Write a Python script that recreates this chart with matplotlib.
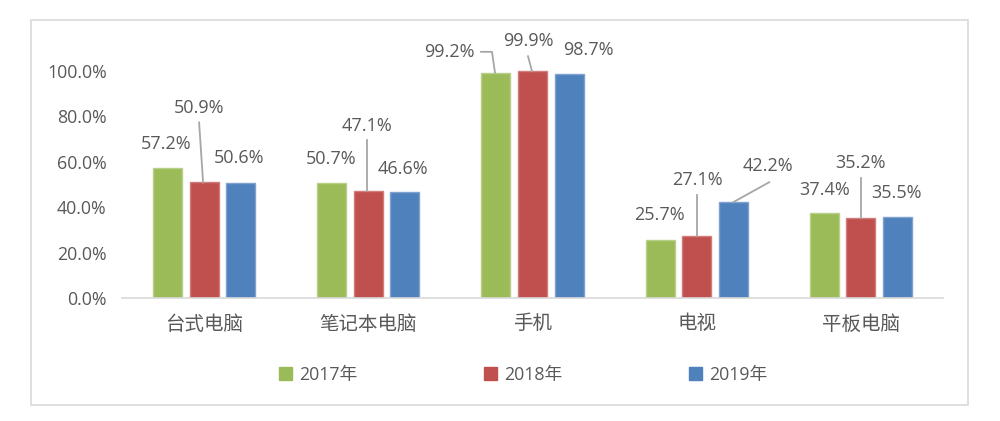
import matplotlib
matplotlib.use("Agg")
import matplotlib.pyplot as plt
from matplotlib.patches import Patch, Rectangle
import numpy as np

plt.rcParams['font.family'] = ['Open Sans', 'Noto Sans CJK SC', 'DejaVu Sans']

categories = ['台式电脑', '笔记本电脑', '手机', '电视', '平板电脑']
series_names = ['2017年', '2018年', '2019年']
values_2017 = [57.2, 50.7, 99.2, 25.7, 37.4]
values_2018 = [50.9, 47.1, 99.9, 27.1, 35.2]
values_2019 = [50.6, 46.6, 98.7, 42.2, 35.5]
yticks = [0, 20, 40, 60, 80, 100]

colors = ['#9BBB59', '#C0504D', '#4F81BD']
edges = ['#B9CF8A', '#D07E7B', '#7FA2CE']
text_color = '#595959'
leader_color = '#A6A6A6'

# label offsets from bar top (pixels: dx, dy up), per series x category
label_offsets = [
    [(-1, 24), (-1, 24), (-47, 21), (-1, 25), (0, 23)],
    [(-5, 74), (-1, 65), (-4.5, 30), (1, 56), (0, 55)],
    [(-2, 25), (-2, 23), (19, 24), (35, 36), (-1, 24)],
]
# leader lines: (series, category, list of pixel offsets from bar top)
leaders = [
    (1, 0, [(-5, 60), (-1, 0)]),
    (1, 1, [(-1.3, 51), (-1.3, 0)]),
    (0, 2, [(-15, 21), (-4, 21), (-1, 0)]),
    (1, 2, [(-4.5, 15), (-0.5, 0)]),
    (1, 3, [(0.3, 41.5), (0.3, 0)]),
    (2, 3, [(36, 20), (0, 0)]),
    (1, 4, [(0, 40), (0, 0)]),
]

fig = plt.figure(figsize=(10, 4.21), dpi=100)
fig.patches.append(Rectangle((31 / 1000, 16 / 421), 937 / 1000, 385 / 421,
                             transform=fig.transFigure, fill=False,
                             edgecolor='#D9D9D9', lw=1.2))

ax = fig.add_axes([0.122, 123 / 421, 0.821, (395.4 - 123) / 421])
ax.set_xlim(-0.5, len(categories) - 0.5)
ax.set_ylim(0, 120)

x = np.arange(len(categories))
width = 0.1766
step = 0.2223
all_vals = [values_2017, values_2018, values_2019]
for s, vals in enumerate(all_vals):
    ax.bar(x + (s - 1) * step, vals, width, color=colors[s], edgecolor=edges[s],
           linewidth=1, label=series_names[s], zorder=2)

for s, vals in enumerate(all_vals):
    for i, v in enumerate(vals):
        dx, dy = label_offsets[s][i]
        ax.annotate(f'{v:.1f}%', (x[i] + (s - 1) * step, v),
                    xytext=(dx * 0.72, dy * 0.72), textcoords='offset points',
                    ha='center', va='center', fontsize=13, color=text_color,
                    annotation_clip=False)

for s, i, pts in leaders:
    bx = x[i] + (s - 1) * step
    by = all_vals[s][i]
    base = ax.transData.transform((bx, by))
    disp = np.array([[base[0] + px, base[1] + py] for px, py in pts])
    data = ax.transData.inverted().transform(disp)
    ax.plot(data[:, 0], data[:, 1], color=leader_color, lw=1.3, zorder=3,
            clip_on=False)

ax.set_yticks(yticks)
ax.set_yticklabels([f'{t:.1f}%' for t in yticks])
ax.set_xticks(x)
ax.set_xticklabels(categories, fontsize=14)
ax.tick_params(axis='both', length=0, colors=text_color)
ax.tick_params(axis='y', pad=11, labelsize=12.8)
ax.tick_params(axis='x', pad=12)
for sp in ['top', 'left', 'right']:
    ax.spines[sp].set_visible(False)
ax.spines['bottom'].set_color('#D9D9D9')
ax.spines['bottom'].set_linewidth(1.2)
ax.spines['bottom'].set_zorder(3)

handles = [Patch(facecolor=colors[s], edgecolor=colors[s]) for s in range(3)]
fig.legend(handles, series_names, loc='center', bbox_to_anchor=(0.523, 46 / 421),
           ncol=3, frameon=False, fontsize=12.8, handlelength=0.75,
           handleheight=0.75, handletextpad=0.4, columnspacing=7.1,
           labelcolor=text_color)

fig.savefig('out.png', dpi=100)
